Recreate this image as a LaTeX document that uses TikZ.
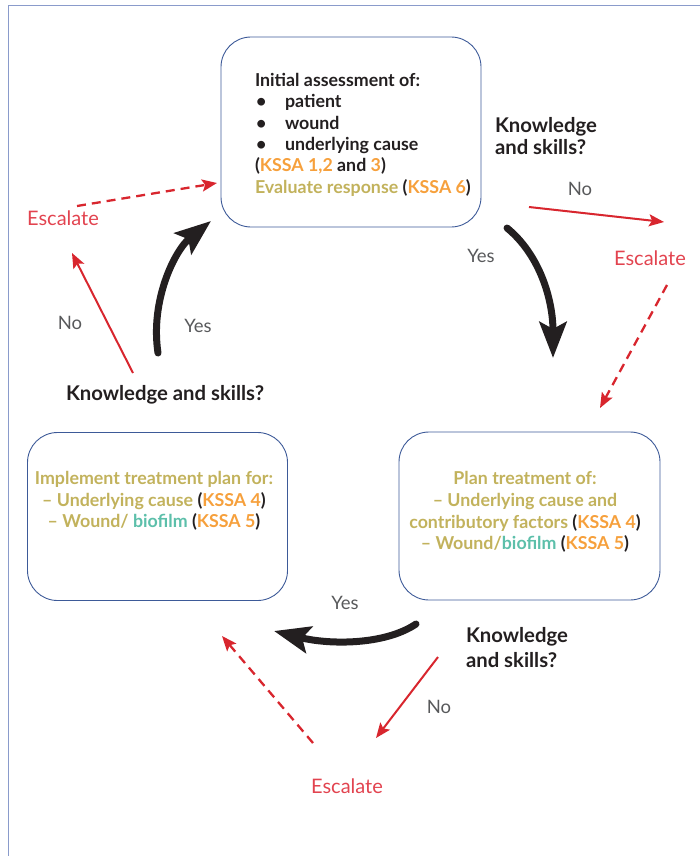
\documentclass[tikz,border=0pt]{standalone}
\usepackage{fontspec}
\setmainfont{Lato}
\usetikzlibrary{arrows.meta}
\definecolor{frameblue}{HTML}{8A9BCB}
\definecolor{boxblue}{HTML}{3D5A98}
\definecolor{olivetext}{HTML}{C2B25C}
\definecolor{kssa}{HTML}{F6A03C}
\definecolor{biofilmteal}{HTML}{5CBFAA}
\definecolor{escred}{HTML}{D8262E}
\definecolor{esctext}{HTML}{E2434F}
\definecolor{ink}{HTML}{231F20}
\definecolor{answer}{HTML}{58595B}
\newcommand{\ks}[1]{\textcolor{kssa}{#1}}
\newcommand{\pk}[1]{\textcolor{ink}{(}\textcolor{kssa}{#1}\textcolor{ink}{)}}
\begin{document}
\begin{tikzpicture}[x=1pt,y=-1pt,
  every node/.style={inner sep=0pt, outer sep=0pt},
  stagebox/.style={draw=boxblue, line width=0.9pt, rounded corners=30pt, minimum width=#1, minimum height=168pt},
  boxtext/.style={font=\bfseries\fontsize{17.8}{21.6}\selectfont, align=center, text=olivetext},
  question/.style={font=\bfseries\fontsize{20.3}{22}\selectfont, text=ink, align=left},
  reply/.style={font=\fontsize{18.5}{20}\selectfont, text=answer},
  escalate/.style={font=\fontsize{20}{22}\selectfont, text=esctext},
  bigarrow/.style={draw=ink, line width=7pt, line cap=round, -{Stealth[length=36pt,width=27pt,inset=7pt]}},
  noarrow/.style={draw=escred, line width=2pt, -{Stealth[length=15pt,width=12pt,inset=3pt]}},
  escarrow/.style={draw=escred, line width=2.3pt, dash pattern=on 9pt off 6pt, -{Stealth[length=15pt,width=12pt,inset=3pt]}}
]
\useasboundingbox (0,0) rectangle (700,856);
% outer frame (left and top edges only)
\draw[frameblue, line width=1pt] (8,856) -- (8,6) -- (700,6);

% three stage boxes
\node[stagebox=260pt, minimum height=190pt] (assessbox) at (351,132) {};
\node[stagebox=260pt] (implbox) at (157.5,516.5) {};
\node[stagebox=261pt] (planbox) at (529.5,516) {};

% top box contents
\node[anchor=north west, align=left, font=\bfseries\fontsize{17.8}{21.4}\selectfont, text=ink] (assesstext) at (255,73)
  {Initial assessment of:\\
   \makebox[30pt][l]{\hspace{1pt}\textbullet}patient\\
   \makebox[30pt][l]{\hspace{1pt}\textbullet}wound\\
   \makebox[30pt][l]{\hspace{1pt}\textbullet}underlying cause\\
   (\ks{KSSA 1,2} and \ks{3})\\
   \textcolor{olivetext}{Evaluate response} \pk{KSSA 6}};

% lower box contents
\node[boxtext] (impltext) at (154,501)
  {Implement treatment plan for:\\
   – Underlying cause \pk{KSSA 4}\\
   – Wound/ \textcolor{biofilmteal}{biofilm} \pk{KSSA 5}};
\node[boxtext] (plantext) at (525,512)
  {Plan treatment of:\\
   – Underlying cause and\\
   contributory factors \pk{KSSA 4}\\
   – Wound/\textcolor{biofilmteal}{biofilm} \pk{KSSA 5}};

% decision labels
\node[question, anchor=north west] (q1) at (495,117) {Knowledge\\and skills?};
\node[question, anchor=north west, font=\bfseries\fontsize{20.3}{25}\selectfont] (q2) at (466,627) {Knowledge\\and skills?};
\node[question] (q3) at (165,395) {Knowledge and skills?};

% escalation labels
\node[escalate] (esc1) at (650,258) {Escalate};
\node[escalate] (esc2) at (347,786) {Escalate};
\node[escalate] (esc3) at (63,218) {Escalate};

% yes / no labels
\node[reply] (no1) at (580,189) {No};
\node[reply] (yes1) at (481,256) {Yes};
\node[reply] (yes2) at (345,603) {Yes};
\node[reply] (no2) at (439,707) {No};
\node[reply] (no3) at (70,323) {No};
\node[reply] (yes3) at (198,326) {Yes};

% connector end points
\coordinate (y1s) at (507,228);
\coordinate (y1e) at (553,358);
\coordinate (y2s) at (416,624);
\coordinate (y2e) at (274,631);
\coordinate (y3s) at (158,353);
\coordinate (y3e) at (211,221);
\coordinate (n1s) at (529,207);
\coordinate (n1e) at (664,222);
\coordinate (n2s) at (438,657);
\coordinate (n2e) at (376,738);
\coordinate (n3s) at (133,373);
\coordinate (n3e) at (72,253);
\coordinate (e1s) at (667,285);
\coordinate (e1e) at (600,408);
\coordinate (e2s) at (313,743);
\coordinate (e2e) at (222,636);
\coordinate (e3s) at (77,206);
\coordinate (e3e) at (217,183);

% "yes" transitions around the cycle
\draw[bigarrow] (y1s) .. controls (540,255) and (553,300) .. (y1e);
\draw[bigarrow] (y2s) .. controls (385,645) and (330,645) .. (y2e);
\draw[bigarrow] (y3s) .. controls (150,300) and (175,250) .. (y3e);

% "no" branches
\draw[noarrow] (n1s) -- (n1e);
\draw[noarrow] (n2s) -- (n2e);
\draw[noarrow] (n3s) -- (n3e);

% escalation routes
\draw[escarrow] (e1s) -- (e1e);
\draw[escarrow] (e2s) -- (e2e);
\draw[escarrow] (e3s) -- (e3e);
\end{tikzpicture}
\end{document}
